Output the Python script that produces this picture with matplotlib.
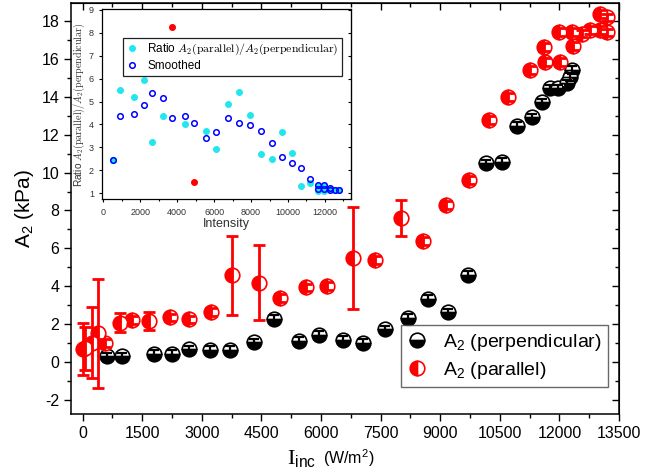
import matplotlib
matplotlib.use('Agg')
import matplotlib.pyplot as plt
from matplotlib.ticker import MultipleLocator

plt.rcParams['font.family'] = ['Liberation Sans', 'DejaVu Sans']
plt.rcParams['axes.unicode_minus'] = False
plt.rcParams['mathtext.fontset'] = 'custom'
plt.rcParams['mathtext.rm'] = 'Liberation Serif'
plt.rcParams['mathtext.sf'] = 'Liberation Sans'
plt.rcParams['mathtext.it'] = 'Liberation Sans:italic'

# main plot: A2 vs incident intensity
perp_x = [610, 1000, 1810, 2255, 2690, 3218, 3704, 4307, 4810, 5440, 5958, 6544,
          7056, 7600, 8187, 8690, 9193, 9712, 10156, 10550, 10943, 11305, 11556,
          11765, 11974, 12183, 12267, 12310]
perp_y = [0.30, 0.30, 0.42, 0.42, 0.67, 0.63, 0.63, 1.04, 2.27, 1.11, 1.42, 1.16,
          1.02, 1.72, 2.34, 3.32, 2.62, 4.59, 10.49, 10.57, 12.45, 12.91, 13.70,
          14.44, 14.44, 14.71, 15.06, 15.41]
perp_err = [0.2] * len(perp_x)

par_x = [0, 50, 250, 380, 560, 938, 1249, 1684, 2212, 2673, 3243, 3763, 4450,
         4977, 5631, 6151, 6804, 7366, 8012, 8580, 9150, 9737, 10240, 10716,
         11262, 11614, 11639, 11998, 12016, 12310, 12351, 12560, 12770, 13022,
         13022, 13190, 13207]
par_y = [0.68, 0.72, 1.03, 1.51, 1.00, 2.08, 2.22, 2.16, 2.36, 2.25, 2.64, 4.59,
         4.19, 3.39, 3.94, 4.01, 5.50, 5.38, 7.58, 6.40, 8.28, 9.60, 12.77, 14.00,
         15.41, 16.64, 15.85, 17.43, 15.85, 17.43, 16.68, 17.34, 17.52, 18.36,
         17.52, 18.19, 17.40]
par_err = [1.36, 1.14, 1.88, 2.90, 0.2, 0.5, 0.2, 0.49, 0.2, 0.2, 0.2, 2.09,
           1.98, 0.2, 0.2, 0.2, 2.70, 0.2, 0.95, 0.2, 0.2, 0.2, 0.2, 0.2,
           0.2, 0.2, 0.2, 0.2, 0.2, 0.2, 0.2, 0.2, 0.2, 0.2,
           0.2, 0.2, 0.2]

# inset: ratio parallel / perpendicular
ratio_x = [542, 904, 1680, 2221, 2654, 3213, 4423, 5560, 6102, 6768, 7347, 7943,
           8538, 9116, 9693, 10233, 10704, 11191, 11608, 11608, 11949, 11949,
           12274, 12545, 12780]
ratio_y = [2.45, 5.51, 5.19, 5.93, 3.24, 4.39, 4.04, 3.72, 2.92, 4.88, 5.44, 4.42,
           2.70, 2.48, 3.66, 2.77, 1.33, 1.45, 1.10, 1.33, 1.33, 1.10,
           1.19, 1.15, 1.15]
outlier_x = [3737, 4928]
outlier_y = [8.24, 1.47]
smooth_x = [542, 904, 1680, 2221, 2654, 3213, 3737, 4423, 4928, 5560, 6102, 6768,
            7347, 7943, 8538, 9116, 9693, 10233, 10704, 11191, 11608, 11608,
            11949, 11949, 12274, 12274, 12545, 12780]
smooth_y = [2.45, 4.37, 4.46, 4.84, 5.39, 5.17, 4.27, 4.37, 4.07, 3.40, 3.68, 4.27,
            4.07, 3.98, 3.73, 3.21, 2.60, 2.34, 2.09, 1.64, 1.35, 1.19,
            1.35, 1.17, 1.22, 1.12, 1.15, 1.15]

fig = plt.figure(figsize=(6.46, 4.73), dpi=100)
ax = fig.add_axes([71 / 646, 1 - 414 / 473, 548 / 646, 411 / 473])

ms = 10.5
l_perp, = ax.plot(perp_x, perp_y, 'o', ls='none', ms=ms, fillstyle='bottom',
                  markerfacecolor='black', markerfacecoloralt='white',
                  markeredgecolor='black', mew=1.2, zorder=3,
                  label=r'A$_{\mathsf{2}}$ (perpendicular)')
ax.errorbar(perp_x, perp_y, yerr=perp_err, fmt='none', ecolor='black',
            elinewidth=1.6, capsize=3.5, capthick=1.6, zorder=4)
l_par, = ax.plot(par_x, par_y, 'o', ls='none', ms=ms, fillstyle='left',
                 markerfacecolor='red', markerfacecoloralt='white',
                 markeredgecolor='red', mew=1.2, zorder=3,
                 label=r'A$_{\mathsf{2}}$ (parallel)')
ax.errorbar(par_x, par_y, yerr=par_err, fmt='none', ecolor='red',
            elinewidth=2, capsize=4, capthick=2, zorder=4)

ax.set_xlim(-290, 13500)
ax.set_ylim(-2.74, 18.95)
ax.xaxis.set_major_locator(MultipleLocator(1500))
ax.xaxis.set_minor_locator(MultipleLocator(750))
ax.yaxis.set_major_locator(MultipleLocator(2))
ax.yaxis.set_minor_locator(MultipleLocator(1))
ax.tick_params(which='both', direction='out', labelsize=11.5, width=1)
ax.tick_params(which='major', length=5)
ax.tick_params(which='minor', length=3)
for s in ax.spines.values():
    s.set_linewidth(1.1)

top = ax.secondary_xaxis('top')
top.xaxis.set_major_locator(MultipleLocator(1500))
top.xaxis.set_minor_locator(MultipleLocator(750))
top.tick_params(which='both', direction='in', labeltop=False, width=1)
top.tick_params(which='major', length=5)
top.tick_params(which='minor', length=3)
right = ax.secondary_yaxis('right')
right.yaxis.set_major_locator(MultipleLocator(2))
right.yaxis.set_minor_locator(MultipleLocator(1))
right.tick_params(which='both', direction='in', labelright=False, width=1)
right.tick_params(which='major', length=5)
right.tick_params(which='minor', length=3)

ax.set_ylabel(r'A$_{\mathsf{2}}$ (kPa)', fontsize=15, labelpad=4)
fig.text(287 / 646, 1 - 464 / 473, r'$\mathrm{I}_{\mathsf{inc}}$', fontsize=16,
         va='baseline', ha='left')
fig.text(323 / 646, 1 - 464 / 473, r'(W/m$^{\mathsf{2}}$)', fontsize=11.5,
         va='baseline', ha='left')

leg = ax.legend(handles=[l_perp, l_par], loc='lower right',
                bbox_to_anchor=(0.998, 0.041), fontsize=14, frameon=True,
                fancybox=False, edgecolor='#444444', handlelength=1.0,
                handletextpad=0.8, labelspacing=0.35, borderpad=0.35)
leg.get_frame().set_linewidth(1.0)

# inset
axi = fig.add_axes([102.3 / 646, 1 - 199.5 / 473, 248.7 / 646, 190 / 473])
axi.set_zorder(5)
axi.plot(ratio_x, ratio_y, 'o', ls='none', ms=4, color='#22E6EE', mec='#22E6EE',
         label=r'Ratio $A_2(\mathrm{parallel})/A_2(\mathrm{perpendicular})$')
axi.plot(outlier_x, outlier_y, 'o', ls='none', ms=4, color='red', mec='red')
axi.plot(smooth_x, smooth_y, 'o', ls='none', ms=4, mfc='none', mec='#0000FF',
         mew=1.1, label='Smoothed')
axi.set_xlim(-54, 13410)
axi.set_ylim(0.725, 9.02)
axi.xaxis.set_major_locator(MultipleLocator(2000))
axi.xaxis.set_minor_locator(MultipleLocator(1000))
axi.yaxis.set_major_locator(MultipleLocator(1))
axi.tick_params(which='both', direction='out', labelsize=6.5, labelcolor='#333333',
                width=0.8, length=2.5)
axi.tick_params(which='minor', length=1.5)
for s in axi.spines.values():
    s.set_linewidth(0.9)
ri = axi.secondary_yaxis('right')
ri.yaxis.set_major_locator(MultipleLocator(1))
ri.tick_params(direction='in', labelright=False, length=2.5, width=0.8)
axi.set_xlabel('Intensity', fontsize=9, color='#333333', labelpad=1)
yl = axi.set_ylabel(r'Ratio $A_2(\mathrm{parallel})/A_2(\mathrm{perpendicular})$',
                    fontsize=7.3, color='#333333', labelpad=1)
yl.set_math_fontfamily('cm')
li = axi.legend(loc='upper left', bbox_to_anchor=(0.058, 0.88), fontsize=8.5,
                fancybox=False, edgecolor='#222222', framealpha=1,
                handlelength=1.0, handletextpad=0.8, borderpad=0.3,
                labelspacing=0.25)
li.get_frame().set_linewidth(0.9)
for t in li.get_texts():
    t.set_math_fontfamily('cm')

fig.savefig('out.png', dpi=100)
